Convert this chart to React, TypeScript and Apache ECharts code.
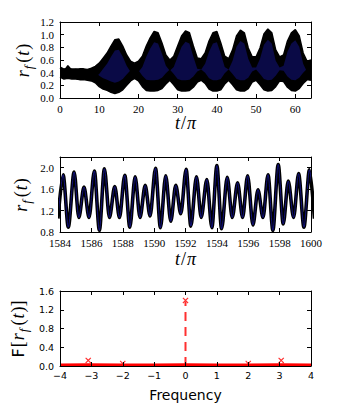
import { useEffect, useRef } from 'react';
import * as echarts from 'echarts';

// ---- Panel 1: envelope of r_f(t) over t/pi = 0..64
const envT = Array.from({ length: 65 }, (_, i) => i);
const envUpper = [
  0.47, 0.42, 0.51, 0.44, 0.45, 0.46, 0.46, 0.45, 0.47, 0.5,
  0.55, 0.63, 0.71, 0.82, 0.92, 0.93, 0.82, 0.68, 0.58, 0.55,
  0.58, 0.66, 0.82, 0.95, 1.05, 1.03, 0.87, 0.68, 0.6, 0.66,
  0.82, 0.98, 1.06, 1.03, 0.82, 0.63, 0.62, 0.71, 0.9, 1.03,
  1.05, 0.87, 0.66, 0.62, 0.76, 0.98, 1.07, 1.03, 0.79, 0.65,
  0.65, 0.79, 1.01, 1.09, 1.03, 0.76, 0.65, 0.68, 0.9, 1.03,
  1.08, 0.98, 0.71, 0.58, 0.6,
];
const envLower = [
  0.33, 0.3, 0.31, 0.3, 0.3, 0.29, 0.29, 0.28, 0.27, 0.24,
  0.18, 0.14, 0.12, 0.09, 0.07, 0.09, 0.13, 0.2, 0.27, 0.31,
  0.27, 0.18, 0.12, 0.11, 0.11, 0.12, 0.15, 0.22, 0.28, 0.21,
  0.13, 0.11, 0.11, 0.12, 0.17, 0.25, 0.28, 0.23, 0.14, 0.11,
  0.11, 0.13, 0.22, 0.28, 0.21, 0.13, 0.11, 0.11, 0.15, 0.25,
  0.28, 0.21, 0.13, 0.11, 0.12, 0.18, 0.27, 0.26, 0.17, 0.12,
  0.11, 0.15, 0.23, 0.29, 0.28,
];

// ---- Panel 2: local extrema of r_f(t), t/pi in 1584..1600
const midT = [
  1583.87, 1584.2, 1584.53, 1584.9, 1585.2, 1585.53, 1585.85, 1586.19, 1586.51, 1586.83,
  1587.15, 1587.49, 1587.79, 1588.13, 1588.45, 1588.79, 1589.1, 1589.43, 1589.74, 1590.09,
  1590.4, 1590.74, 1591.06, 1591.38, 1591.7, 1592.04, 1592.34, 1592.7, 1593.0, 1593.36,
  1593.68, 1594.0, 1594.3, 1594.66, 1594.98, 1595.32, 1595.64, 1595.96, 1596.3, 1596.62,
  1596.94, 1597.26, 1597.57, 1597.91, 1598.23, 1598.55, 1598.89, 1599.21, 1599.55, 1599.9,
  1600.22,
];
const midV = [
  1.05, 1.87, 0.89, 1.92, 1.07, 1.64, 1.07, 1.94, 0.83, 1.98,
  1.07, 1.65, 1.07, 1.86, 0.89, 1.83, 1.07, 1.67, 1.1, 1.99,
  0.88, 1.85, 1.0, 1.67, 1.14, 1.97, 0.91, 1.83, 1.07, 1.78,
  0.88, 2.04, 0.86, 1.82, 1.07, 1.72, 1.07, 1.85, 0.93, 1.59,
  1.07, 1.87, 0.83, 2.06, 0.95, 1.75, 1.07, 1.89, 0.89, 1.96,
  1.05,
];

// ---- Panel 3: spectrum
const specFreq = [-4, -3.1, -2, -1, 0, 1, 2, 3.05, 4];
const specAmp = [0.014, 0.02, 0.017, 0.017, 0.02, 0.017, 0.017, 0.02, 0.014];
const peakFreq = [-3.1, -2, 0, 2, 3.05];
const peakAmp = [0.12, 0.055, 1.4, 0.055, 0.12];
const stemFreq = 0;
const stemAmp = 1.38;

const SERIF = "'Liberation Serif', 'DejaVu Serif', serif";
const SANS = "'DejaVu Sans', sans-serif";
const CROSS = 'path://M0,1.3L1.3,0L5,3.7L8.7,0L10,1.3L6.3,5L10,8.7L8.7,10L5,6.3L1.3,10L0,8.7L3.7,5Z';

const fix1 = (v: number) => v.toFixed(1);
const minusInt = (v: number) => (v < 0 ? '\u2212' + Math.abs(v) : String(v));

const mathRich = {
  i: { fontFamily: SERIF, fontStyle: 'italic', fontSize: 18, color: '#000', lineHeight: 24, verticalAlign: 'middle' },
  n: { fontFamily: SERIF, fontSize: 18, color: '#000', lineHeight: 24, verticalAlign: 'middle', padding: [0, 1, 0, 1] },
  s: { fontFamily: SERIF, fontStyle: 'italic', fontSize: 13, color: '#000', lineHeight: 14, verticalAlign: 'bottom', padding: [0, 2, 0, 1] },
  sf: { fontFamily: SANS, fontSize: 16, color: '#000', lineHeight: 24, verticalAlign: 'middle' },
};

function axisBase(grid: number, min: number, max: number, interval: number) {
  return {
    type: 'value',
    gridIndex: grid,
    min,
    max,
    interval,
    splitLine: { show: false },
    axisLine: { show: true, onZero: false, lineStyle: { color: '#000', width: 1 } },
    axisTick: { show: true, inside: true, length: 4, lineStyle: { color: '#000', width: 1 } },
    nameMoveOverlap: false,
    z: 5,
  };
}

function xPair(grid: number, min: number, max: number, interval: number, fmt: any, font: string, size: number, showMax: boolean, name: string, gap: number, nameStyle: any, margin: number) {
  return [
    {
      ...axisBase(grid, min, max, interval),
      position: 'bottom',
      axisLabel: { show: true, formatter: fmt, fontFamily: font, fontSize: size, color: '#000', margin, showMaxLabel: showMax, showMinLabel: true },
      name,
      nameLocation: 'middle',
      nameGap: gap,
      nameTextStyle: nameStyle,
    },
    { ...axisBase(grid, min, max, interval), position: 'top', axisLabel: { show: false } },
  ];
}

function yPair(grid: number, min: number, max: number, interval: number, fmt: any, font: string, size: number, showMax: boolean, name: string, gap: number, margin: number) {
  return [
    {
      ...axisBase(grid, min, max, interval),
      position: 'left',
      axisLabel: { show: true, formatter: fmt, fontFamily: font, fontSize: size, color: '#000', margin, showMaxLabel: showMax, showMinLabel: true },
      name,
      nameLocation: 'middle',
      nameGap: gap,
      nameRotate: 90,
      nameTextStyle: { rich: mathRich },
    },
    { ...axisBase(grid, min, max, interval), position: 'right', axisLabel: { show: false } },
  ];
}

function band(data: number[][], fill: string, line: any) {
  return {
    type: 'line', xAxisIndex: 0, yAxisIndex: 0, symbol: 'none', data,
    lineStyle: line,
    areaStyle: { color: fill, opacity: 1, origin: 'start' },
  };
}

export default function App() {
  const ref = useRef<HTMLDivElement>(null);
  useEffect(() => {
    if (!ref.current) return;
    const chart = echarts.init(ref.current, null, { renderer: 'svg' });
    const m = 0.17;
    const tName = '{i|t}{n|/}{i|π}';
    const rName = '{i|r}{s|f}{n|(}{i|t}{n|)}';
    const fName = '{sf|F}{n|[}{i|r}{s|f}{n|(}{i|t}{n|)]}';
    const option: any = {
      animation: false,
      backgroundColor: '#fff',
      grid: [
        { left: 60, top: 22, width: 251, height: 76 },
        { left: 60, top: 157, width: 251, height: 75 },
        { left: 60, top: 291, width: 251, height: 75 },
      ],
      xAxis: [
        ...xPair(0, 0, 64, 10, (v: number) => String(v), SERIF, 11, false, tName, 13, { rich: mathRich }, 5),
        ...xPair(1, 1584, 1600, 2, (v: number) => String(v), SERIF, 11, true, tName, 15, { rich: mathRich }, 5),
        ...xPair(2, -4, 4, 1, minusInt, SANS, 9.5, true, 'Frequency', 22, { fontFamily: SANS, fontSize: 14, color: '#000' }, 4),
      ],
      yAxis: [
        ...yPair(0, 0, 1.2, 0.2, fix1, SERIF, 11, true, rName, 25, 6),
        ...yPair(1, 0.8, 2.2, 0.4, fix1, SERIF, 11, false, rName, 27, 6),
        ...yPair(2, 0, 1.6, 0.4, fix1, SANS, 9.5, true, fName, 30, 6),
      ],
      series: [
        band(envT.map((t, i) => [t, envUpper[i]]), '#000', { color: '#000', width: 1.5 }),
        band(envT.map((t, i) => [t, envUpper[i] - m]), '#0a0a46', { opacity: 0 }),
        band(envT.map((t, i) => [t, envLower[i] + m]), '#000', { opacity: 0 }),
        band(envT.map((t, i) => [t, envLower[i]]), '#fff', { color: '#000', width: 1.5 }),
        {
          type: 'line', xAxisIndex: 2, yAxisIndex: 2, symbol: 'none', smooth: 0.3, smoothMonotone: 'x',
          data: midT.map((t, i) => [t, midV[i]]),
          lineStyle: { color: '#000', width: 3.6 },
        },
        {
          type: 'line', xAxisIndex: 2, yAxisIndex: 2, symbol: 'none', smooth: 0.3, smoothMonotone: 'x',
          data: midT.map((t, i) => [t, midV[i]]),
          lineStyle: { color: '#1c1cc8', width: 0.6 },
        },
        {
          type: 'scatter', xAxisIndex: 4, yAxisIndex: 4, symbol: CROSS, symbolSize: 6,
          data: peakFreq.map((f, i) => [f, peakAmp[i]]),
          itemStyle: { color: '#ff3030', opacity: 1 },
          z: 1,
        },
        {
          type: 'line', xAxisIndex: 4, yAxisIndex: 4, symbol: 'none',
          data: [[stemFreq, 0], [stemFreq, stemAmp]],
          lineStyle: { color: '#ff3030', width: 2, type: [9, 6] },
          z: 2,
        },
        {
          type: 'line', xAxisIndex: 4, yAxisIndex: 4, symbol: 'none',
          data: specFreq.map((f, i) => [f, specAmp[i]]),
          lineStyle: { color: '#ff0000', width: 3.5 },
          z: 3,
        },
      ],
    };
    chart.setOption(option);
    return () => chart.dispose();
  }, []);
  return <div ref={ref} style={{ position: 'absolute', left: 0, top: 0, width: 340, height: 420, background: '#fff' }} />;
}
